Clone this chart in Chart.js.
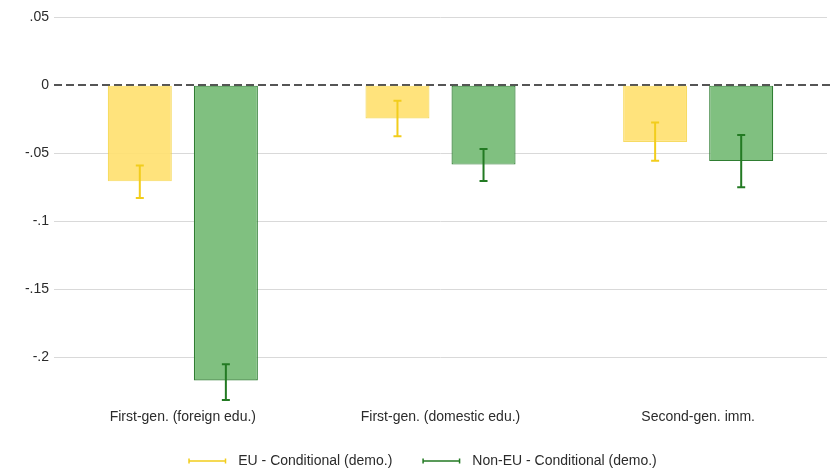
<!DOCTYPE html>
<html>
<head>
<meta charset="utf-8">
<script src="https://cdn.jsdelivr.net/npm/chart.js@4.4.1/dist/chart.umd.min.js"></script>
<style>
  html, body { margin: 0; padding: 0; background: #ffffff; }
  #wrap { width: 830px; height: 469px; }
</style>
</head>
<body>
<div id="wrap"><canvas id="chart" width="830" height="469"></canvas></div>
<script>
// Categories and series
const categories = ["First-gen. (foreign edu.)", "First-gen. (domestic edu.)", "Second-gen. imm."];
const seriesNames = ["EU - Conditional (demo.)", "Non-EU - Conditional (demo.)"];
const euValues = [-0.0707, -0.0245, -0.0418];
const euLow = [-0.083, -0.0376, -0.0556];
const euHigh = [-0.059, -0.0115, -0.0275];
const nonEuValues = [-0.217, -0.0584, -0.0558];
const nonEuLow = [-0.2314, -0.0705, -0.0750];
const nonEuHigh = [-0.205, -0.047, -0.0366];
const yTickValues = [0.05, 0, -0.05, -0.1, -0.15, -0.2];
const yTickLabels = [".05", "0", "-.05", "-.1", "-.15", "-.2"];

const FONT = "'Liberation Sans', Arial, sans-serif";
const TEXT = "#2b2b2b";

const styles = [
  { fill: "rgba(255, 224, 110, 0.9)", border: "rgba(245, 210, 60, 0.8)", err: "#f2cd1c" },
  { fill: "#80c080", border: "#2f7d32", err: "#237a23" }
];

// Error bars drawn on top of the bars using the chart's own scales
const errorBars = {
  id: "errorBars",
  afterDatasetsDraw(chart) {
    const ctx = chart.ctx;
    const y = chart.scales.y;
    const ranges = [[euLow, euHigh], [nonEuLow, nonEuHigh]];
    chart.data.datasets.forEach((ds, di) => {
      const meta = chart.getDatasetMeta(di);
      meta.data.forEach((bar, i) => {
        const x = bar.x;
        const y1 = y.getPixelForValue(ranges[di][0][i]);
        const y2 = y.getPixelForValue(ranges[di][1][i]);
        ctx.save();
        ctx.strokeStyle = styles[di].err;
        ctx.lineWidth = 2;
        ctx.beginPath();
        ctx.moveTo(x, y1); ctx.lineTo(x, y2);
        ctx.moveTo(x - 4, y1); ctx.lineTo(x + 4, y1);
        ctx.moveTo(x - 4, y2); ctx.lineTo(x + 4, y2);
        ctx.stroke();
        ctx.restore();
      });
    });
  }
};

// Dashed reference line at zero
const zeroLine = {
  id: "zeroLine",
  beforeDatasetsDraw(chart) {
    const ctx = chart.ctx;
    const area = chart.chartArea;
    const y0 = Math.round(chart.scales.y.getPixelForValue(0));
    ctx.save();
    ctx.strokeStyle = "#555555";
    ctx.lineWidth = 2;
    ctx.setLineDash([8, 4]);
    ctx.beginPath();
    ctx.moveTo(area.left, y0);
    ctx.lineTo(chart.width, y0);
    ctx.stroke();
    ctx.restore();
  }
};

// Legend with error-bar style line keys, centred below the axis
const capLegend = {
  id: "capLegend",
  afterDraw(chart) {
    const ctx = chart.ctx;
    ctx.save();
    ctx.font = "14px " + FONT;
    ctx.textBaseline = "middle";
    const keyW = 38, gapText = 12, gapItem = 30;
    const widths = seriesNames.map(n => keyW + gapText + ctx.measureText(n).width);
    const total = widths[0] + gapItem + widths[1];
    let x = 422.5 - total / 2;
    const yc = 461;
    seriesNames.forEach((name, i) => {
      ctx.strokeStyle = styles[i].err;
      ctx.lineWidth = 1.5;
      ctx.beginPath();
      ctx.moveTo(x, yc); ctx.lineTo(x + keyW, yc);
      ctx.moveTo(x + 0.75, yc - 2.5); ctx.lineTo(x + 0.75, yc + 2.5);
      ctx.moveTo(x + keyW - 0.75, yc - 2.5); ctx.lineTo(x + keyW - 0.75, yc + 2.5);
      ctx.stroke();
      ctx.fillStyle = TEXT;
      ctx.textAlign = "left";
      ctx.fillText(name, x + keyW + gapText, yc);
      x += widths[i] + gapItem;
    });
    ctx.restore();
  }
};

new Chart(document.getElementById("chart"), {
  type: "bar",
  data: {
    labels: categories,
    datasets: [
      {
        label: seriesNames[0],
        data: euValues,
        backgroundColor: styles[0].fill,
        borderColor: styles[0].border,
        borderWidth: 1.2,
        borderSkipped: false
      },
      {
        label: seriesNames[1],
        data: nonEuValues,
        backgroundColor: styles[1].fill,
        borderColor: styles[1].border,
        borderWidth: 1.2,
        borderSkipped: false
      }
    ]
  },
  options: {
    responsive: false,
    animation: false,
    devicePixelRatio: 1,
    layout: { padding: { top: 7, right: 3, bottom: 44, left: 0 } },
    datasets: {
      bar: { categoryPercentage: 0.668, barPercentage: 0.744 }
    },
    plugins: {
      legend: { display: false },
      tooltip: { enabled: false }
    },
    scales: {
      x: {
        grid: { display: false, drawTicks: false },
        border: { display: false },
        ticks: { color: TEXT, font: { family: FONT, size: 14 }, padding: 4, maxRotation: 0 },
        afterFit(scale) { scale.height = 20; }
      },
      y: {
        min: -0.235,
        max: 0.0527,
        border: { display: false },
        grid: {
          drawTicks: false,
          color: ctx => (ctx.tick && ctx.tick.value === 0 ? "rgba(0,0,0,0)" : "#d9d9d9"),
          lineWidth: 1
        },
        afterBuildTicks(scale) {
          scale.ticks = yTickValues.map(v => ({ value: v }));
        },
        ticks: {
          color: TEXT,
          font: { family: FONT, size: 14 },
          padding: 5,
          callback: (value) => {
            const idx = yTickValues.findIndex(v => Math.abs(v - value) < 1e-9);
            return idx >= 0 ? yTickLabels[idx] : "";
          }
        },
        afterFit(scale) { scale.width = 54; }
      }
    }
  },
  plugins: [zeroLine, errorBars, capLegend]
});
</script>
</body>
</html>
